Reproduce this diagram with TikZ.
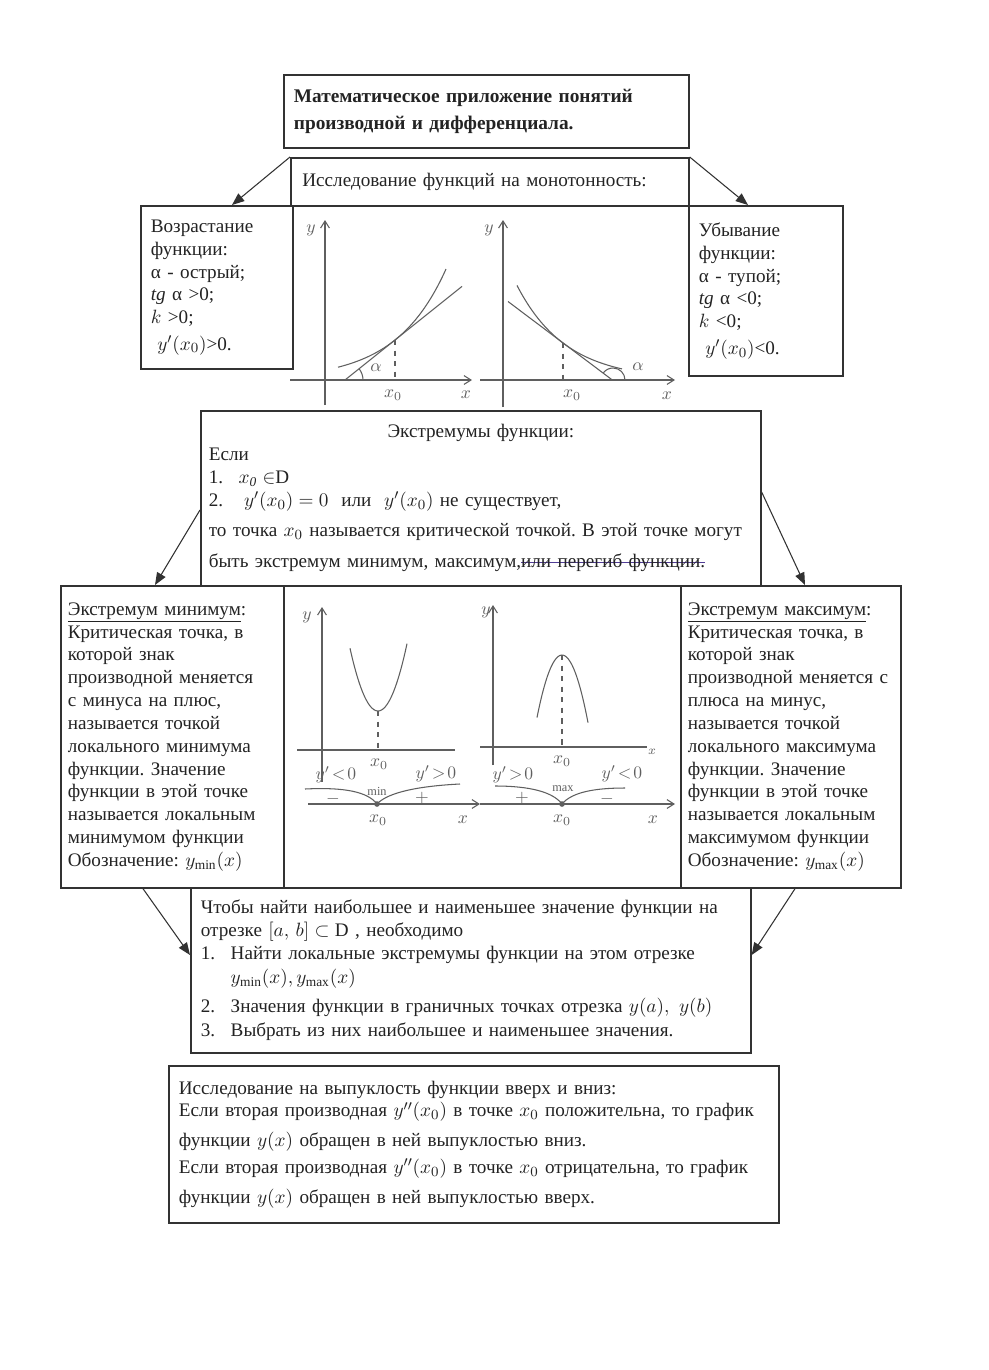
\documentclass[tikz,border=0pt]{standalone}
\usepackage{fontspec}
\setmainfont{Liberation Serif}
\usetikzlibrary{arrows.meta,calc}
\definecolor{inkgray}{RGB}{35,35,35}
\definecolor{linegray}{RGB}{50,50,50}
\definecolor{pencil}{RGB}{95,95,95}
\definecolor{inkblue}{RGB}{80,60,150}
\newsavebox{\strikebox}
\newcommand{\inkstrike}[1]{\sbox{\strikebox}{#1}\rlap{\textcolor{inkblue}{\rule[0.55ex]{\wd\strikebox}{0.8pt}}}\usebox{\strikebox}}
\frenchspacing

\begin{document}
\begin{tikzpicture}[
  x=0.02cm, y=-0.02cm,
  font=\fontsize{10.9}{13}\selectfont,
  every node/.style={text=inkgray},
  box/.style={draw=linegray, line width=1pt, inner xsep=0.2cm, inner ysep=0pt,
              align=left, anchor=north west},
  arrow/.style={-{Triangle[length=7pt,width=5.5pt]}, line width=0.6pt, color=linegray},
  pen/.style={pencil, line width=0.6pt},
  axis/.style={pen, -{Straight Barb[length=4pt,width=5pt]}},
  hand/.style={text=pencil, inner sep=0pt, font=\fontsize{10}{12}\selectfont},
  tiny/.style={hand, font=\fontsize{7}{8}\selectfont}
]
\fill[white] (0,0) rectangle (988,1370);
\useasboundingbox (0,0) rectangle (988,1370);

% Title
\node[box, text width=7.7cm, minimum height=1.46cm, font=\fontsize{11}{15}\selectfont\bfseries]
  (title) at (283,74) {Математическое приложение понятий\\производной и дифференциала.};

% Monotonicity
\node[box, text width=7.5cm, inner xsep=0.23cm, minimum height=0.96cm] (mono) at (290,157)
  {Исследование функций на монотонность:};
\node[box, text width=2.64cm, minimum height=3.26cm] (incr) at (140,205)
  {Возрастание\\функции:\\α - острый;\\\textit{tg} α >0;\\$k$ >0;\\[2pt]\ $y'\bigl(x_0\bigr)$>0.};
\node[box, text width=2.68cm, minimum height=3.4cm] (decr) at (688,205)
  {Убывание\\функции:\\α - тупой;\\\textit{tg} α <0;\\$k$ <0;\\[2pt]\ $y'\bigl(x_0\bigr)$<0.\\[6pt]};

% Growth sketch
\draw[axis] (325,405) -- (325,220);
\draw[axis] (290,380) -- (472,380);
\draw[pen] plot[domain=338:446, samples=40, smooth] (\x, {380-9.86*exp(0.02*(\x-325))});
\draw[pen] (345,380) -- (462,286.4);
\draw[pen, dashed] (395,340) -- (395,380);
\draw[pen] (363,380) arc[start angle=0, end angle=-38.7, radius=18];
\node[hand] (alpha1) at (376,368) {$\alpha$};
\node[hand] (y1) at (311,230) {$y$};
\node[hand] (x01) at (393,395) {$x_0$};
\node[hand] (xa1) at (466,395) {$x$};

% Decay sketch
\draw[axis] (503,407) -- (503,220);
\draw[axis] (480,380) -- (675,380);
\draw[pen] plot[domain=517:622, samples=40, smooth] (\x, {380-37*exp(-0.0204*(\x-563))});
\draw[pen] (508,301.5) -- (613,380.5);
\draw[pen, dashed] (563,343) -- (563,380);
\draw[pen] (625,380) arc[start angle=0, end angle=-143, radius=12];
\node[hand] (alpha2) at (638,367) {$\alpha$};
\node[hand] (y2) at (489,230) {$y$};
\node[hand] (x02) at (572,395) {$x_0$};
\node[hand] (xa2) at (667,396) {$x$};

% Extrema
\node[box, text width=10.88cm, inner xsep=0.16cm, minimum height=3.5cm] (extr) at (200,410)
  {\makebox[\hsize]{Экстремумы функции:}\\
   Если\\
   \makebox[17pt][l]{1.}$x_{\mathit{0}}\in$D\\
   \makebox[20pt][l]{2.}$y'\bigl(x_0\bigr)=0$ \ или \ $y'\bigl(x_0\bigr)$ не существует,\\[4pt]
   \mbox{то точка $x_0$ называется критической точкой. В этой точке могут}\\[5pt]
   быть экстремум минимум, максимум,\inkstrike{или перегиб функции.}};

\node[box, text width=4.18cm, inner xsep=0.14cm, minimum height=6.04cm] (emin) at (60,585)
  {\underline{Экстремум минимум}:\\Критическая точка, в\\которой знак\\производной меняется\\
   с минуса на плюс,\\называется точкой\\локального минимума\\функции. Значение\\
   функции в этой точке\\называется локальным\\минимумом функции\\
   Обозначение: $y_{\min}\bigl(x\bigr)$};
\node[box, minimum width=7.94cm, minimum height=6.04cm] (plots) at (283,585) {};
\node[box, text width=4.12cm, inner xsep=0.14cm, minimum height=6.04cm] (emax) at (680,585)
  {\underline{Экстремум максимум}:\\Критическая точка, в\\которой знак\\производной меняется с\\
   плюса на минус,\\называется точкой\\локального максимума\\функции. Значение\\
   функции в этой точке\\называется локальным\\максимумом функции\\
   Обозначение: $y_{\max}\bigl(x\bigr)$};

% Minimum sketch
\draw[axis] (322,782) -- (322,607);
\draw[pen] (297,750) -- (455,750);
\draw[pen] plot[domain=350:407, samples=30, smooth] (\x, {711-0.08*(\x-378)*(\x-378)});
\draw[pen, dashed] (378,711) -- (378,750);
\draw[axis] (308,804) -- (480,804);
\draw[pen] (305,789) .. controls (345,787) and (368,792) .. (377,804)
  .. controls (388,792) and (420,786) .. (460,784);
\fill[pencil] (377,804) circle[radius=1.6pt];
\node[hand] (y3) at (307,617) {$y$};
\node[hand] (x03) at (379,764) {$x_0$};
\node[hand] (dneg3) at (336,775) {$y'\!<\!0$};
\node[tiny] (min3) at (377,791) {min};
\node[hand] (dpos3) at (436,774) {$y'\!>\!0$};
\node[hand] (minus3) at (333,799) {$-$};
\node[hand] (plus3) at (422,798) {$+$};
\node[hand] (xs3) at (378,820) {$x_0$};
\node[hand] (xa3) at (463,820) {$x$};

% Maximum sketch
\draw[axis] (493,765) -- (493,605);
\draw[pen] (480,747) -- (647,747);
\draw[pen] plot[domain=537:588, samples=30, smooth] (\x, {655+0.1*(\x-562)*(\x-562)});
\draw[pen, dashed] (562,655) -- (562,747);
\draw[axis] (480,804) -- (675,804);
\draw[pen] (495,786) .. controls (530,786) and (553,792) .. (562,804)
  .. controls (572,792) and (595,788) .. (625,788);
\fill[pencil] (562,804) circle[radius=1.6pt];
\node[hand] (y4) at (486,612) {$y$};
\node[tiny] (xt4) at (652,752) {$x$};
\node[hand] (x04) at (562,761) {$x_0$};
\node[hand] (dpos4) at (513,775) {$y'\!>\!0$};
\node[tiny] (max4) at (563,789) {max};
\node[hand] (dneg4) at (622,774) {$y'\!<\!0$};
\node[hand] (plus4) at (522,798) {$+$};
\node[hand] (minus4) at (607,799) {$-$};
\node[hand] (xs4) at (562,820) {$x_0$};
\node[hand] (xa4) at (653,820) {$x$};

% Greatest and least value
\node[box, text width=10.8cm, minimum height=3.3cm] (range) at (190,887)
  {Чтобы найти наибольшее и наименьшее значение функции на\\
   отрезке $[a,\,b]\subset\mathrm{D}$ , необходимо\\
   \makebox[17pt][l]{1.}Найти локальные экстремумы функции на этом отрезке\\[1pt]
   \hspace*{17pt}$y_{\min}\bigl(x\bigr), y_{\max}\bigl(x\bigr)$\\[3pt]
   \makebox[17pt][l]{2.}Значения функции в граничных точках отрезка $y\bigl(a\bigr),\ y\bigl(b\bigr)$\\[1pt]
   \makebox[17pt][l]{3.}Выбрать из них наибольшее и наименьшее значения.};

% Convexity
\node[box, text width=11.8cm, minimum height=3.14cm] (convex) at (168,1065)
  {Исследование на выпуклость функции вверх и вниз:\\
   Если вторая производная $y''\bigl(x_0\bigr)$ в точке $x_0$ положительна, то график\\[4pt]
   функции $y\bigl(x\bigr)$ обращен в ней выпуклостью вниз.\\[2pt]
   Если вторая производная $y''\bigl(x_0\bigr)$ в точке $x_0$ отрицательна, то график\\[4pt]
   функции $y\bigl(x\bigr)$ обращен в ней выпуклостью вверх.};

% Arrows
\draw[arrow] (mono.north west) -- ($(incr.north west)+(92,0)$);
\draw[arrow] (mono.north east) -- ($(decr.north west)+(60,0)$);
\draw[arrow] ($(extr.north west)+(0,100)$) -- ($(emin.north west)+(95,0)$);
\draw[arrow] ($(extr.north east)+(0,82)$) -- ($(emax.north west)+(125,0)$);
\draw[arrow] ($(emin.south west)+(83,0)$) -- ($(range.north west)+(0,68)$);
\draw[arrow] ($(emax.south west)+(115,0)$) -- ($(range.north east)+(0,68)$);

\end{tikzpicture}
\end{document}
